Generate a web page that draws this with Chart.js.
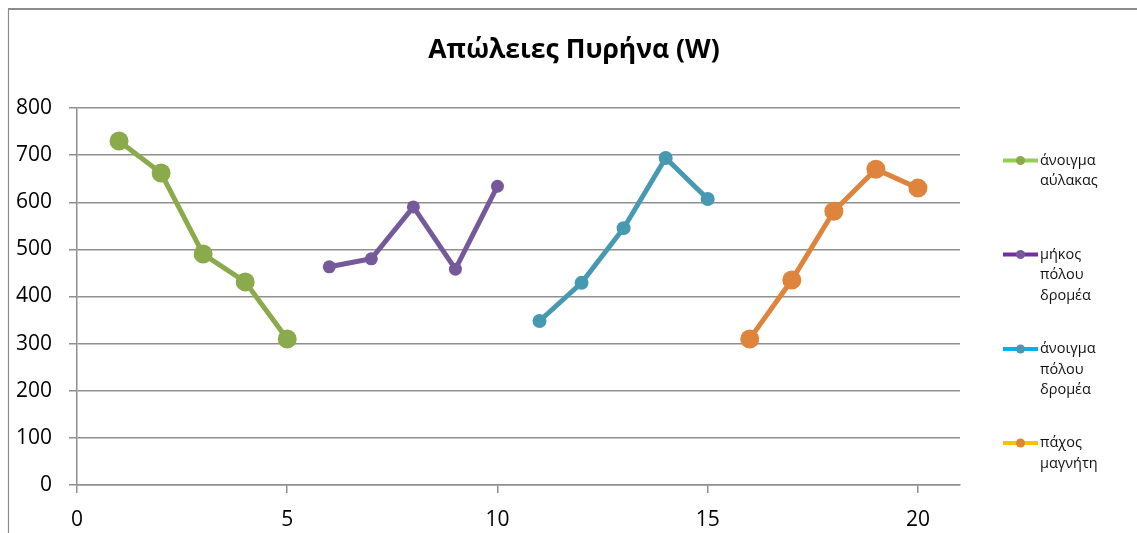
<!DOCTYPE html>
<html>
<head>
<meta charset="utf-8">
<script src="https://cdn.jsdelivr.net/npm/chart.js@4/dist/chart.umd.min.js"></script>
<style>
  html, body { margin: 0; padding: 0; background: #fff; }
  #wrap { position: relative; width: 1137px; height: 533px; }
</style>
</head>
<body>
<div id="wrap"><canvas id="c"></canvas></div>
<script>
// Core loss (W) by design variant, four groups of five variants
const titleText = 'Απώλειες Πυρήνα (W)';

const grooveX = [1, 2, 3, 4, 5];
const grooveY = [730, 662, 490, 431, 310];

const poleLenX = [6, 7, 8, 9, 10];
const poleLenY = [463, 480, 590, 458, 634];

const poleArcX = [11, 12, 13, 14, 15];
const poleArcY = [348, 429, 545, 694, 607];

const magnetX = [16, 17, 18, 19, 20];
const magnetY = [310, 435, 581, 670, 630];

const seriesLabels = [
  ['άνοιγμα', 'αύλακας'],
  ['μήκος', 'πόλου', 'δρομέα'],
  ['άνοιγμα', 'πόλου', 'δρομέα'],
  ['πάχος', 'μαγνήτη']
];

const xTickValues = [0, 5, 10, 15, 20];
const yTickValues = [0, 100, 200, 300, 400, 500, 600, 700, 800];

const colors = ['#8aaa4b', '#76599a', '#4699b1', '#de843c'];
const legendLineColors = ['#92d050', '#7030a0', '#00b0f0', '#ffc000'];
const pointSizes = [9.5, 6.5, 7, 9.5];

const FONT = "'Open Sans', 'DejaVu Sans', sans-serif";

function pairs(xs, ys) { return xs.map((x, i) => ({ x: x, y: ys[i] })); }

const seriesData = [
  pairs(grooveX, grooveY),
  pairs(poleLenX, poleLenY),
  pairs(poleArcX, poleArcY),
  pairs(magnetX, magnetY)
];

const datasets = seriesData.map((d, i) => ({
  label: seriesLabels[i].join(' '),
  data: d,
  showLine: true,
  borderColor: colors[i],
  backgroundColor: colors[i],
  borderWidth: 5,
  pointRadius: pointSizes[i],
  pointHoverRadius: pointSizes[i],
  pointBorderWidth: 0,
  pointBackgroundColor: colors[i],
  tension: 0
}));

// Outer frame, title and the side legend
const decor = {
  id: 'decor',
  afterDraw(chart) {
    const ctx = chart.ctx;
    ctx.save();
    ctx.strokeStyle = '#8c8c8c';
    ctx.lineWidth = 2;
    ctx.beginPath();
    ctx.moveTo(8, 9);
    ctx.lineTo(1137, 9);
    ctx.stroke();
    ctx.lineWidth = 1.2;
    ctx.beginPath();
    ctx.moveTo(8.5, 9);
    ctx.lineTo(8.5, 533);
    ctx.stroke();

    ctx.fillStyle = '#000';
    ctx.font = 'bold 26.5px ' + FONT;
    ctx.textAlign = 'center';
    ctx.textBaseline = 'middle';
    ctx.fillText(titleText, 574, 50);

    const rowY = [160.5, 254.5, 349, 443];
    ctx.font = '14.5px ' + FONT;
    ctx.textAlign = 'left';
    ctx.textBaseline = 'middle';
    rowY.forEach((y, i) => {
      ctx.strokeStyle = legendLineColors[i];
      ctx.lineWidth = 4;
      ctx.beginPath();
      ctx.moveTo(1003, y);
      ctx.lineTo(1038, y);
      ctx.stroke();
      ctx.fillStyle = colors[i];
      ctx.beginPath();
      ctx.arc(1020.5, y, 4.5, 0, Math.PI * 2);
      ctx.fill();
      ctx.fillStyle = '#111';
      seriesLabels[i].forEach((t, k) => ctx.fillText(t, 1040, y + k * 20.5));
    });
    ctx.restore();
  }
};

const gridColor = '#8f8f8f';

new Chart(document.getElementById('c'), {
  type: 'scatter',
  data: { datasets: datasets },
  options: {
    responsive: true,
    maintainAspectRatio: false,
    animation: false,
    layout: { padding: { left: 0, right: 177, top: 108, bottom: 0 } },
    plugins: {
      legend: { display: false },
      title: { display: false },
      tooltip: { enabled: false }
    },
    scales: {
      x: {
        type: 'linear',
        min: 0,
        max: 21,
        afterBuildTicks(scale) { scale.ticks = xTickValues.map(v => ({ value: v })); },
        afterFit(scale) { scale.height = 48; },
        grid: { drawOnChartArea: false, drawTicks: true, tickLength: 8, color: gridColor, lineWidth: 1.5 },
        border: { display: true, color: gridColor, width: 1.5 },
        ticks: { color: '#000', font: { family: FONT, size: 21 }, padding: 14, maxRotation: 0 }
      },
      y: {
        type: 'linear',
        min: 0,
        max: 800,
        afterBuildTicks(scale) { scale.ticks = yTickValues.map(v => ({ value: v })); },
        afterFit(scale) { scale.width = 77; },
        grid: { drawOnChartArea: true, drawTicks: true, tickLength: 8, color: gridColor, lineWidth: 1.5 },
        border: { display: true, color: gridColor, width: 1.5 },
        ticks: { color: '#000', font: { family: FONT, size: 21 }, padding: 17 }
      }
    }
  },
  plugins: [decor]
});
</script>
</body>
</html>
